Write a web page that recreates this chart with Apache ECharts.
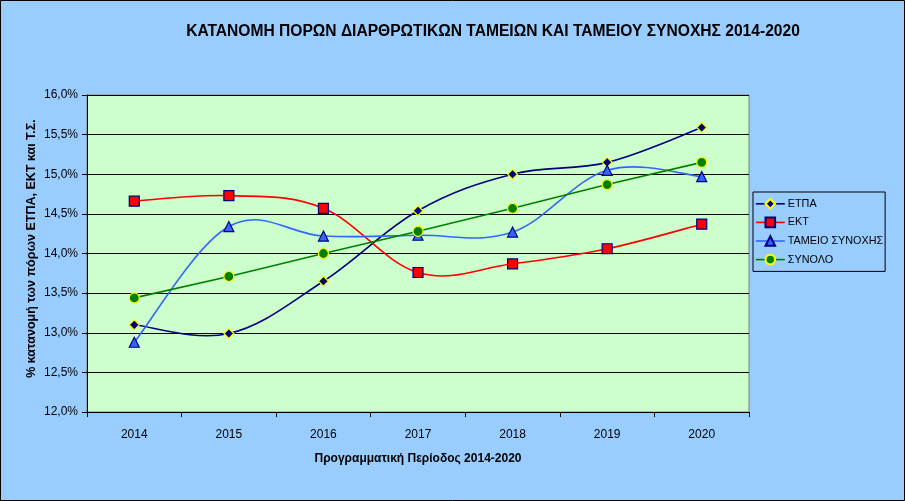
<!DOCTYPE html>
<html><head><meta charset="utf-8">
<script src="https://cdn.jsdelivr.net/npm/echarts@6/dist/echarts.min.js"></script>
<style>html,body{margin:0;padding:0;background:#99CCFF}#c{width:905px;height:501px}</style>
</head><body><div id="c"></div>
<script>
const years = ['2014','2015','2016','2017','2018','2019','2020'];
const etpa = [13.10, 12.99, 13.65, 14.54, 15.00, 15.15, 15.59];
const ekt = [14.66, 14.73, 14.57, 13.76, 13.87, 14.06, 14.37];
const tameio = [12.88, 14.34, 14.22, 14.23, 14.27, 15.05, 14.97];
const synolo = [13.44, 13.71, 14.00, 14.28, 14.57, 14.87, 15.15];
const seriesNames = ['ΕΤΠΑ','ΕΚΤ','ΤΑΜΕΙΟ ΣΥΝΟΧΗΣ','ΣΥΝΟΛΟ'];
const titleText = 'ΚΑΤΑΝΟΜΗ ΠΟΡΩΝ ΔΙΑΡΘΡΩΤΙΚΩΝ ΤΑΜΕΙΩΝ ΚΑΙ ΤΑΜΕΙΟΥ ΣΥΝΟΧΗΣ 2014-2020';
const xName = 'Προγραμματική Περίοδος 2014-2020';
const yName = '% κατανομή των πόρων ΕΤΠΑ, ΕΚΤ και Τ.Σ.';

const chart = echarts.init(document.getElementById('c'), null, {renderer:'canvas'});
const K = 0.18;
function curveSeries(arr, color){
  return {type:'custom', z:1, silent:true, data:arr.map((v,i)=>[i,v]),
    encode:{x:0,y:1},
    renderItem:function(params, api){
      if (params.dataIndex !== 0) return null;
      const p = arr.map((v,i)=>api.coord([i,v]));
      let d = 'M'+p[0][0]+' '+p[0][1];
      for (let i=0;i<p.length-1;i++){
        const p0 = p[Math.max(i-1,0)], p1=p[i], p2=p[i+1], p3=p[Math.min(i+2,p.length-1)];
        const c1 = [p1[0]+(p2[0]-p0[0])*K, p1[1]+(p2[1]-p0[1])*K];
        const c2 = [p2[0]-(p3[0]-p1[0])*K, p2[1]-(p3[1]-p1[1])*K];
        d += ' C'+c1[0]+' '+c1[1]+' '+c2[0]+' '+c2[1]+' '+p2[0]+' '+p2[1];
      }
      return {type:'path', shape:{pathData:d}, style:{fill:'none', stroke:color, lineWidth:1.6}};
    }};
}
function mk(name, data, lineColor, symbol, fill, border, size, hideLine){
  return {name, type:'line', data, symbol, symbolSize:size, z:3,
    lineStyle:{color:lineColor, width:1.6, opacity: hideLine?0:1},
    itemStyle:{color:fill, borderColor:border, borderWidth:1.2},
    emphasis:{disabled:true}};
}
const lineColors = ['#000080','#FF0000','#3366FF','#008000'];
chart.setOption({
  animation:false,
  backgroundColor:'#99CCFF',
  title:{text:titleText, left:488, top:19, textAlign:'center',
    textStyle:{fontFamily:'Liberation Sans', fontWeight:'bold', fontSize:15.6, color:'#000'}},
  grid:{left:87, right:156, top:95, bottom:89, show:true, backgroundColor:'#CCFFCC', borderColor:'#808080', borderWidth:1},
  legend:{orient:'vertical', left:753, top:192,
    backgroundColor:'#99CCFF', borderColor:'#000', borderWidth:1, padding:[6,2,6,2],
    itemGap:7, itemWidth:29, itemHeight:12,
    textStyle:{fontFamily:'Liberation Sans', fontSize:10.8, color:'#000', padding:[0,0,0,-2]},
    data:seriesNames.map((n,i)=>({name:n, lineStyle:{color:lineColors[i], width:1.6, opacity:1}}))},
  xAxis:{type:'category', data:years, boundaryGap:true,
    name:xName, nameLocation:'middle', nameGap:41,
    nameTextStyle:{fontFamily:'Liberation Sans', fontWeight:'bold', fontSize:12, color:'#000'},
    axisLine:{lineStyle:{color:'#000', width:1}},
    axisTick:{show:true, length:5, lineStyle:{color:'#000'}},
    axisLabel:{fontFamily:'Liberation Sans', fontSize:12, color:'#000', margin:17}},
  yAxis:{type:'value', min:12, max:16, interval:0.5,
    name:yName, nameLocation:'middle', nameGap:49, nameRotate:90, nameMoveOverlap:false,
    nameTextStyle:{fontFamily:'Liberation Sans', fontWeight:'bold', fontSize:12.5, color:'#000', padding:[0,0,0,10]},
    axisLine:{show:true, lineStyle:{color:'#000', width:1}},
    axisTick:{show:true, length:5, lineStyle:{color:'#000'}},
    splitLine:{lineStyle:{color:'#000', width:1}},
    axisLabel:{fontFamily:'Liberation Sans', fontSize:12, color:'#000', margin:9,
      formatter:v=>v.toFixed(1).replace('.',',')+'%'}},
  graphic:[{type:'rect', shape:{x:0.5,y:0.5,width:904,height:500}, style:{fill:'none', stroke:'#000', lineWidth:1}, z:100, silent:true}],
  series:[
    curveSeries(etpa, lineColors[0]),
    curveSeries(ekt, lineColors[1]),
    curveSeries(tameio, lineColors[2]),
    mk(seriesNames[0], etpa, lineColors[0], 'diamond', '#000080', '#FFFF00', 10, true),
    mk(seriesNames[1], ekt, lineColors[1], 'rect', '#FF0000', '#000080', 10, true),
    mk(seriesNames[2], tameio, lineColors[2], 'triangle', '#3366FF', '#000080', 10, true),
    mk(seriesNames[3], synolo, lineColors[3], 'circle', '#008000', '#FFFF00', 10, false)
  ]
});
</script></body></html>
